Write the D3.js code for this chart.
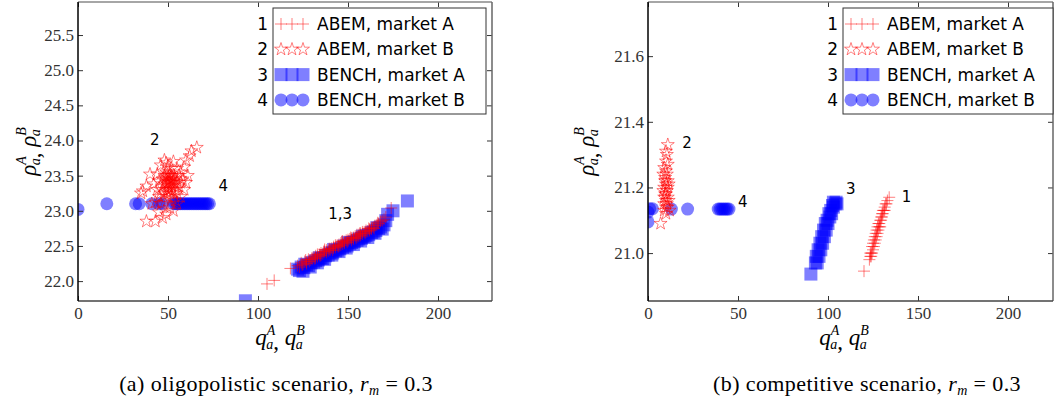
<!DOCTYPE html>
<html>
<head>
<meta charset="utf-8">
<script src="https://cdn.jsdelivr.net/npm/d3@7"></script>
<style>
  body { margin: 0; background: #fff; }
  svg { display: block; }
  .lab { font-family: "DejaVu Sans", sans-serif; font-size: 15px; fill: #000; }
  .leg { font-family: "DejaVu Sans", sans-serif; font-size: 17px; fill: #000; }
</style>
</head>
<body>
<svg width="1055" height="405"></svg>
<script>
// ---- data ----
// (a) oligopolistic scenario
var oligoAbemA = [[105,21.96],[109,22.01],[118,22.18],[122,22.22],[123,22.2],[124,22.26],[125,22.24],[126,22.28],
  [127,22.27],[128,22.31],[129,22.3],[130,22.33],[131,22.34],[132,22.36],[133,22.35],[134,22.38],[135,22.4],
  [136,22.39],[137,22.42],[138,22.44],[139,22.43],[140,22.46],[141,22.47],[142,22.49],[143,22.48],[144,22.51],
  [145,22.52],[146,22.54],[147,22.53],[148,22.56],[149,22.58],[150,22.57],[151,22.6],[152,22.61],[153,22.62],
  [154,22.64],[155,22.63],[156,22.66],[157,22.68],[158,22.67],[159,22.7],[160,22.72],[161,22.71],[162,22.74],
  [163,22.76],[164,22.77],[165,22.79],[166,22.8],[167,22.82],[168,22.85],[170,22.88],[174,23.04],
  [130,22.31],[135,22.37],[140,22.44],[145,22.5],[150,22.59],[155,22.66],[160,22.7],[138,22.41],[148,22.54],
  [127,22.25],[133,22.38],[143,22.51],[153,22.6],[158,22.7],[163,22.74],
  [124.5,22.23],[126.5,22.3],[128.5,22.28],[131.5,22.32],[134.5,22.36],[136.5,22.42],[139.5,22.46],[141.5,22.44],
  [144.5,22.49],[146.5,22.56],[149.5,22.55],[151.5,22.62],[154.5,22.61],[156.5,22.68],[159.5,22.68],[161.5,22.75],
  [164.5,22.75],[166.5,22.83],[169,22.86],[171,22.91],[137,22.45],[142,22.47],[147,22.57],[152,22.58],[157,22.65],
  [162,22.72],[132,22.33],[146,22.51],[156,22.64]];
var oligoAbemB = [[66,23.9],[63,23.85],[62,23.78],[60,23.72],[59,23.62],[57,23.55],[55,23.6],[48,23.72],[49,23.68],
  [46,23.65],[44,23.52],[40,23.52],[38,23.35],[36,23.28],[35,23.25],[42,23.38],[45,23.42],[47,23.45],[48,23.5],
  [49,23.55],[50,23.48],[51,23.4],[52,23.45],[53,23.5],[54,23.38],[55,23.42],[56,23.35],[50,23.35],[51,23.3],
  [52,23.32],[49,23.28],[48,23.38],[47,23.3],[53,23.25],[54,23.3],[57,23.4],[58,23.45],[56,23.5],[46,23.25],
  [45,23.2],[44,23.3],[50,23.2],[52,23.18],[54,23.15],[48,23.12],[46,23.1],[43,23.12],[41,23.1],[38,22.85],
  [43,22.85],[47,22.9],[49,22.95],[45,22.98],[51,23.05],[53,23.0],[55,23.1],[57,23.2],[59,23.3],[61,23.5],
  [60,23.4],[52,23.6],[50,23.62],[53,23.7],[51,23.52],[50,23.42],[49,23.45],[52,23.4],[51,23.5],[48,23.25],[55,23.25],
  [50,23.38],[51,23.45],[52,23.36],[49,23.4],[53,23.42],[50,23.3],[51,23.25],[52,23.5],[49,23.5],[54,23.45]];
var oligoBenchA = [[93,21.72],[122,22.17],[123,22.15],[124,22.2],[125.5,22.19],[127,22.23],[128,22.22],[129.5,22.26],
  [131,22.27],[132,22.29],[133.5,22.3],[135,22.33],[136,22.32],[137.5,22.36],[139,22.37],[140,22.4],[141.5,22.4],
  [143,22.43],[144,22.44],[145.5,22.46],[147,22.48],[148,22.5],[149.5,22.5],[151,22.53],[152,22.55],[153.5,22.56],
  [155,22.58],[156,22.6],[157.5,22.61],[159,22.63],[160,22.65],[161.5,22.66],[163,22.69],[164,22.7],[165.5,22.72],
  [167,22.75],[168,22.77],[170,22.8],[172,22.95],[175,23.0],[183,23.14],
  [126,22.24],[134,22.33],[142,22.45],[150,22.55],[158,22.64],[166,22.76],
  [125,22.14],[129,22.2],[133,22.26],[137,22.31],[141,22.37],[145,22.42],[149,22.47],[153,22.52],[157,22.57],
  [161,22.62],[165,22.68],[169,22.74],[171,22.86]];
var oligoBenchB = [[0,23.02],[16,23.1],[32,23.1],[34,23.1],[41,23.1],[45,23.1],[47,23.1],[53,23.1],[54,23.1],
  [55,23.1],[56,23.1],[57,23.1],[58,23.1],[59,23.1],[60,23.1],[61,23.1],[62,23.1],[63,23.1],[64,23.1],[65,23.1],
  [66,23.1],[67,23.1],[68,23.1],[69,23.1],[70,23.1],[71,23.1],[72,23.1],[73,23.1]];

// (b) competitive scenario
var compAbemA = [[120,20.945],[123,20.98],[123.5,21.0],[124,20.99],[124.5,21.02],[125,21.01],[125.5,21.04],
  [126,21.03],[126.5,21.06],[127,21.05],[127.5,21.08],[128,21.07],[128.5,21.09],[129,21.1],[129.5,21.11],
  [130,21.11],[130.5,21.13],[131,21.13],[131.5,21.14],[132,21.15],[133,21.16],[134,21.17],[124,21.0],
  [126,21.05],[128,21.09],[130,21.12],[125,21.03],[127,21.07],[129,21.08],
  [124.5,21.0],[125.5,21.02],[126.5,21.04],[127.5,21.06],[128.5,21.08],[129.5,21.1],[130.5,21.12],[131.5,21.13],
  [123.5,20.99],[132.5,21.15]];
var compAbemB = [[7,21.09],[9,21.13],[10,21.12],[11,21.14],[9,21.15],[10,21.16],[11,21.17],[9.5,21.18],[10.5,21.19],
  [9,21.2],[10,21.21],[11,21.22],[9.5,21.23],[10.5,21.24],[10,21.25],[9,21.26],[11,21.27],[10,21.28],[10.5,21.3],
  [10,21.31],[11,21.33],[9.5,21.22],[10,21.18],[10.5,21.15],[9,21.17],[11,21.2],[8.5,21.19],[11.5,21.21],
  [8.5,21.24],[11.5,21.16],[10,21.14],[12,21.13]];
var compBenchA = [[90.5,20.936],[93,20.97],[94,20.97],[93.5,20.99],[95,20.99],[94.5,21.01],[96,21.01],[95.5,21.03],
  [97,21.03],[96.5,21.05],[98,21.05],[97.5,21.07],[99,21.07],[98.5,21.09],[100,21.09],[99.5,21.1],[101,21.11],
  [100.5,21.12],[102,21.12],[101.5,21.13],[103,21.14],[102.5,21.145],[104,21.15],[103,21.155],[104.5,21.155],[105,21.15]];
var compBenchB = [[0,21.095],[0,21.125],[1,21.135],[2.5,21.135],[13,21.134],[22,21.134],[39,21.134],[40,21.134],
  [41,21.134],[42,21.134],[43,21.134],[44,21.134],[45,21.134]];

var legendNames = ["ABEM, market A", "ABEM, market B", "BENCH, market A", "BENCH, market B"];
var oligoYTicks = [22.0, 22.5, 23.0, 23.5, 24.0, 24.5, 25.0, 25.5];
var compYTicks = [21.0, 21.2, 21.4, 21.6];
var xTicks = [0, 50, 100, 150, 200];

var oligoNotes = [{t: "2", x: 40, y: 23.93}, {t: "4", x: 78, y: 23.28}, {t: "1,3", x: 139, y: 22.88}];
var compNotes = [{t: "2", x: 19, y: 21.32}, {t: "4", x: 50, y: 21.14}, {t: "3", x: 110, y: 21.18}, {t: "1", x: 141, y: 21.155}];

var svg = d3.select("svg");

var red = "#ff0000", blue = "#0000ff";
var serif = "Liberation Serif";

function drawMarker(g, kind, x, y) {
  if (kind == "plus") {
    g.append("path").attr("d", "M" + (x - 6) + "," + y + "h12M" + x + "," + (y - 6) + "v12")
      .attr("stroke", red).attr("stroke-opacity", 0.5).attr("stroke-width", 1).attr("fill", "none");
  } else if (kind == "star") {
    g.append("path").attr("d", d3.symbol(d3.symbolStar, 52)())
      .attr("transform", "translate(" + x + "," + y + ")")
      .attr("stroke", red).attr("stroke-opacity", 0.5).attr("stroke-width", 1).attr("fill", "none");
  } else if (kind == "square") {
    g.append("rect").attr("x", x - 6.5).attr("y", y - 6.5).attr("width", 13).attr("height", 13)
      .attr("fill", blue).attr("fill-opacity", 0.5);
  } else {
    g.append("circle").attr("cx", x).attr("cy", y).attr("r", 6.5)
      .attr("fill", blue).attr("fill-opacity", 0.5);
  }
}

function mathLabel(g, x, y, letter, rotate) {
  var t = g.append("text")
    .attr("transform", "translate(" + x + "," + y + ")" + (rotate ? " rotate(-90)" : ""))
    .attr("text-anchor", "middle")
    .style("font-family", serif).style("font-style", "italic").style("font-size", "23px");
  ["A", "B"].forEach(function(sup, i) {
    t.append("tspan").text(letter).attr("dy", i == 0 ? 0 : -4);
    t.append("tspan").text(sup).style("font-size", "14px").attr("dy", -10);
    t.append("tspan").text("a").style("font-size", "14px").attr("dx", -9).attr("dy", 14);
    if (i == 0) t.append("tspan").text(", ").style("font-style", "normal").attr("dy", 0);
  });
}

function panel(opt) {
  var x = d3.scaleLinear().domain(opt.xDomain).range([opt.left, opt.right]);
  var y = d3.scaleLinear().domain(opt.yDomain).range([opt.bottom, opt.top]);
  var g = svg.append("g");

  var clipId = "clip" + opt.id;
  svg.append("clipPath").attr("id", clipId).append("rect")
    .attr("x", opt.left).attr("y", opt.top)
    .attr("width", opt.right - opt.left).attr("height", opt.bottom - opt.top);

  var marks = g.append("g").attr("clip-path", "url(#" + clipId + ")");
  opt.series.forEach(function(s) {
    s.data.forEach(function(d) { drawMarker(marks, s.kind, x(d[0]), y(d[1])); });
  });

  // axes, ticks pointing inward
  var ax = function(a) {
    a.attr("font-family", null).attr("font-size", null);
    a.selectAll(".domain").remove();
    a.selectAll(".tick line").attr("stroke", "#333");
    a.selectAll(".tick text").attr("fill", "#333")
      .style("font-family", serif).style("font-size", "17px");
  };
  g.append("g").attr("transform", "translate(0," + opt.bottom + ")")
    .call(d3.axisBottom(x).tickValues(xTicks).tickFormat(d3.format("d")).tickSizeInner(-5).tickSizeOuter(0).tickPadding(6))
    .call(ax);
  g.append("g").attr("transform", "translate(0," + opt.top + ")")
    .call(d3.axisTop(x).tickValues(xTicks).tickFormat("").tickSizeInner(-5).tickSizeOuter(0))
    .call(ax);
  g.append("g").attr("transform", "translate(" + opt.left + ",0)")
    .call(d3.axisLeft(y).tickValues(opt.yTicks).tickFormat(d3.format(".1f")).tickSizeInner(-5).tickSizeOuter(0).tickPadding(4))
    .call(ax);
  g.append("g").attr("transform", "translate(" + opt.right + ",0)")
    .call(d3.axisRight(y).tickValues(opt.yTicks).tickFormat("").tickSizeInner(-5).tickSizeOuter(0))
    .call(ax);

  // frame
  g.append("line").attr("x1", opt.left).attr("x2", opt.right).attr("y1", opt.top).attr("y2", opt.top).attr("stroke", "#888").attr("stroke-width", 1.5);
  g.append("line").attr("x1", opt.right).attr("x2", opt.right).attr("y1", opt.top).attr("y2", opt.bottom).attr("stroke", "#666").attr("stroke-width", 1.5);
  g.append("line").attr("x1", opt.left).attr("x2", opt.right).attr("y1", opt.bottom).attr("y2", opt.bottom).attr("stroke", "#444").attr("stroke-width", 1.5);
  g.append("line").attr("x1", opt.left).attr("x2", opt.left).attr("y1", opt.top).attr("y2", opt.bottom).attr("stroke", "#000").attr("stroke-width", 1.5);

  // annotations
  opt.notes.forEach(function(n) {
    g.append("text").attr("class", "lab").attr("x", x(n.x)).attr("y", y(n.y)).text(n.t);
  });

  // legend
  var lg = g.append("g");
  lg.append("rect").attr("x", opt.legX).attr("y", 8).attr("width", opt.legW).attr("height", 106)
    .attr("fill", "#fff").attr("stroke", "#333").attr("stroke-width", 1);
  var kinds = ["plus", "star", "square", "circle"];
  legendNames.forEach(function(name, i) {
    var cy = 24 + i * 25.3;
    lg.append("text").attr("class", "leg").attr("x", opt.legX - 5).attr("y", cy + 6).attr("text-anchor", "end").text(i + 1);
    [8, 19, 30].forEach(function(dx) { drawMarker(lg, kinds[i], opt.legX + dx, cy); });
    lg.append("text").attr("class", "leg").attr("x", opt.legX + 44).attr("y", cy + 6).text(name);
  });

  // axis labels
  mathLabel(g, opt.yLabX, (opt.top + opt.bottom) / 2, "\u03c1", true);
  mathLabel(g, opt.xLabX, 345, "q", false);

  // caption
  var c = g.append("text").attr("x", opt.capX).attr("y", 391).attr("text-anchor", "middle")
    .style("font-family", serif).style("font-size", "22px").style("letter-spacing", "0.4px");
  c.append("tspan").text(opt.caption + " ");
  c.append("tspan").text("r").style("font-style", "italic");
  c.append("tspan").text("m").style("font-style", "italic").style("font-size", "14px").attr("dy", 4);
  c.append("tspan").text(" = 0.3").attr("dy", -4);
}

panel({
  id: "a", left: 78, right: 492, top: 2, bottom: 301,
  xDomain: [0, 230], yDomain: [21.717, 25.97], yTicks: oligoYTicks,
  series: [
    {kind: "square", data: oligoBenchA}, {kind: "circle", data: oligoBenchB},
    {kind: "plus", data: oligoAbemA}, {kind: "star", data: oligoAbemB}
  ],
  notes: oligoNotes, legX: 273, legW: 213, yLabX: 36, xLabX: 280,
  capX: 276, caption: "(a) oligopolistic scenario,"
});

panel({
  id: "b", left: 648, right: 1053, top: 2, bottom: 301,
  xDomain: [0, 225], yDomain: [20.854, 21.765], yTicks: compYTicks,
  series: [
    {kind: "square", data: compBenchA}, {kind: "circle", data: compBenchB},
    {kind: "plus", data: compAbemA}, {kind: "star", data: compAbemB}
  ],
  notes: compNotes, legX: 843, legW: 210, yLabX: 594, xLabX: 844,
  capX: 867, caption: "(b) competitive scenario,"
});
</script>
</body>
</html>
